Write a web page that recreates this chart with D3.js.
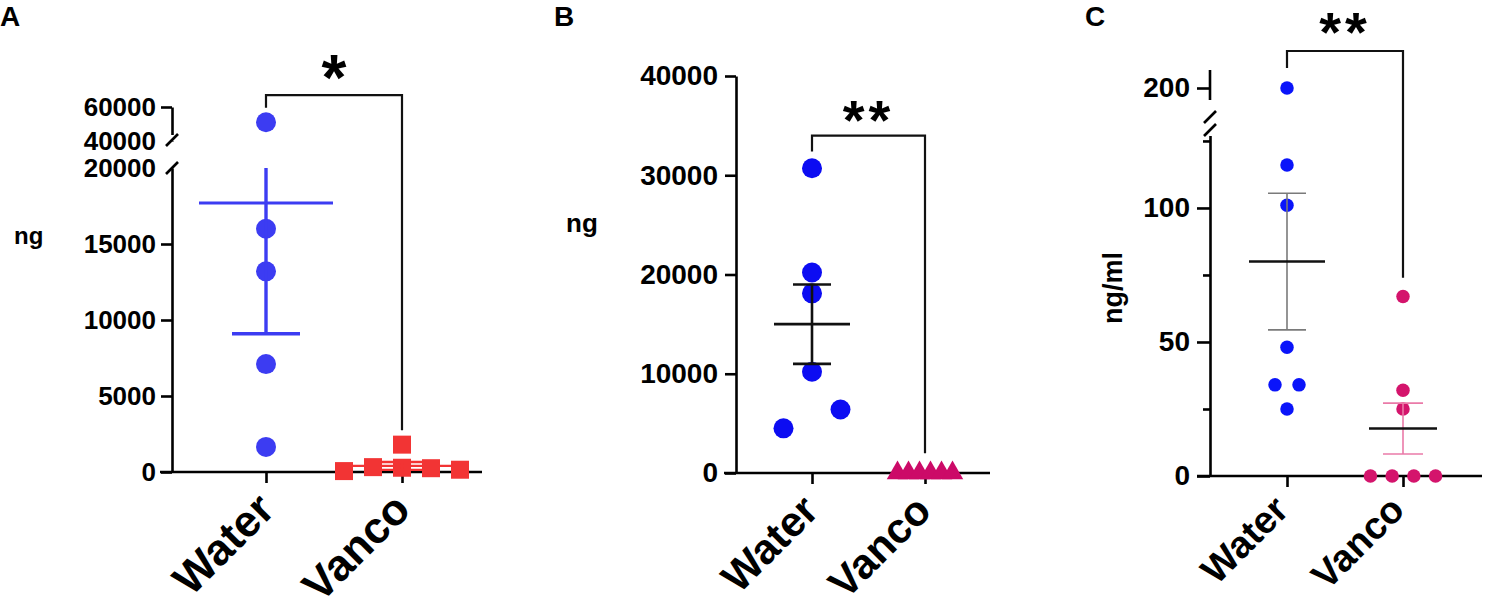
<!DOCTYPE html>
<html>
<head>
<meta charset="utf-8">
<script src="https://cdn.jsdelivr.net/npm/d3@7"></script>
<style>
  body { margin: 0; background: #fff; }
  svg { display: block; }
  text { font-family: "Liberation Sans", Arial, sans-serif; font-weight: bold; fill: #000; }
</style>
</head>
<body>
<svg width="1486" height="612"></svg>
<script>
// groups on every x axis
var groups = ["Water", "Vanco"];

// panel A: ng, broken y axis (0-20000 and 40000-60000)
var aWater = [51000, 16000, 13200, 7100, 1650];
var aVanco = [60, 320, 1800, 280, 250, 150];
var aMean = [17700, 400];
var aSem = [8600, 260];
var aTicks = [0, 5000, 10000, 15000];

// panel B: ng
var bWater = [30700, 20200, 18100, 10200, 4500, 6400];
var bVanco = [0, 0, 0, 0, 0, 0];
var bMean = [15000, 0];
var bSem = [4000, 0];
var bTicks = [0, 10000, 20000, 30000, 40000];

// panel C: ng/ml, broken y axis
var cWater = [200, 116, 101, 48, 34, 34, 25];
var cVanco = [67, 32, 25, 0, 0, 0, 0];
var cMean = [80, 17.7];
var cSem = [25.5, 9.5];
var cTicks = [0, 50, 100];
var cMinor = [25, 75, 125];

var svg = d3.select("svg");
var fmt = d3.format("d");

// spread points sideways when their markers would overlap (like a prism scatter)
function swarm(values, y, diam, spread) {
  var idx = values.map(function(d, i) { return i; })
                  .sort(function(a, b) { return values[a] - values[b]; });
  var clusters = [], cur = [idx[0]];
  for (var k = 1; k < idx.length; k++) {
    if (Math.abs(y(values[idx[k]]) - y(values[idx[k - 1]])) < diam) cur.push(idx[k]);
    else { clusters.push(cur); cur = [idx[k]]; }
  }
  clusters.push(cur);
  var off = new Array(values.length).fill(0);
  clusters.forEach(function(c) {
    c.sort(function(a, b) { return a - b; });
    c.forEach(function(i, j) { off[i] = (j - (c.length - 1) / 2) * spread; });
  });
  return off;
}

function dots(g, values, cx, y, opt) {
  var off = swarm(values, y, opt.diam, opt.spread);
  var sel = g.selectAll(null).data(values).enter();
  if (opt.shape === "circle") {
    sel.append("circle")
       .attr("cx", function(d, i) { return cx + off[i]; })
       .attr("cy", function(d) { return y(d); })
       .attr("r", opt.diam / 2)
       .attr("fill", opt.color);
  } else {
    var sym = d3.symbol().type(opt.shape === "square" ? d3.symbolSquare : d3.symbolTriangle).size(opt.size);
    sel.append("path")
       .attr("d", sym)
       .attr("transform", function(d, i) { return "translate(" + (cx + off[i]) + "," + y(d) + ")"; })
       .attr("fill", opt.color);
  }
}

function errorBar(g, cx, y, mean, sem, opt) {
  var top = mean + sem, clipped = false;
  if (opt.clip !== undefined && top > opt.clip) { top = opt.clip; clipped = true; }
  g.append("line").attr("x1", cx).attr("x2", cx)
   .attr("y1", y(mean - sem)).attr("y2", y(top))
   .attr("stroke", opt.bar).attr("stroke-width", opt.barW);
  g.append("line").attr("x1", cx - opt.cap).attr("x2", cx + opt.cap)
   .attr("y1", y(mean - sem)).attr("y2", y(mean - sem))
   .attr("stroke", opt.bar).attr("stroke-width", opt.barW);
  if (!clipped)
    g.append("line").attr("x1", cx - opt.cap).attr("x2", cx + opt.cap)
     .attr("y1", y(top)).attr("y2", y(top))
     .attr("stroke", opt.bar).attr("stroke-width", opt.barW);
  g.append("line").attr("x1", cx - opt.half).attr("x2", cx + opt.half)
   .attr("y1", y(mean)).attr("y2", y(mean))
   .attr("stroke", opt.mean).attr("stroke-width", opt.meanW);
}

function bracket(g, x, y, top, left, right, stars, starY, fs) {
  g.append("path")
   .attr("d", "M" + x("Water") + "," + y(left) + "V" + y(top) + "H" + x("Vanco") + "V" + y(right))
   .attr("fill", "none").attr("stroke", "#111").attr("stroke-width", 2.2);
  g.append("text")
   .attr("x", (x("Water") + x("Vanco")) / 2)
   .attr("y", y(starY))
   .attr("text-anchor", "middle")
   .attr("font-size", fs)
   .attr("letter-spacing", stars.length > 1 ? 4 : 0)
   .text(stars);
}

function xAxis(g, x, y0, x0, x1, fs, dx, dy) {
  g.append("line").attr("x1", x0).attr("x2", x1).attr("y1", y0).attr("y2", y0)
   .attr("stroke", "#000").attr("stroke-width", 2.6);
  var ax = g.append("g").attr("transform", "translate(0," + y0 + ")")
            .call(d3.axisBottom(x).tickSize(11).tickSizeOuter(0));
  ax.select(".domain").remove();
  ax.selectAll(".tick line").attr("stroke", "#000").attr("stroke-width", 2.6);
  ax.selectAll(".tick text")
    .attr("x", 0).attr("y", 0).attr("dy", 0)
    .attr("transform", "translate(" + dx + "," + dy + ") rotate(-45)")
    .attr("text-anchor", "end")
    .attr("font-size", fs)
    .attr("font-family", null).attr("fill", "#000");
}

function styleY(ax, fs) {
  ax.selectAll(".domain").attr("stroke", "#000").attr("stroke-width", 2.6);
  ax.selectAll(".tick line").attr("stroke", "#000").attr("stroke-width", 2.6);
  ax.selectAll(".tick text").attr("font-size", fs).attr("font-family", null).attr("fill", "#000");
}

function slash(g, x, y) {
  g.append("line").attr("x1", x - 6).attr("x2", x + 6).attr("y1", y + 6).attr("y2", y - 6)
   .attr("stroke", "#000").attr("stroke-width", 2.6);
}

// ---------------- panel A ----------------
var gA = svg.append("g");
var xA = d3.scalePoint().domain(groups).range([266, 402]);
var yAlo = d3.scaleLinear().domain([0, 20000]).range([472, 168]);
var yAup = d3.scaleLinear().domain([40000, 60000]).range([141, 107]);
function yA(v) { return v > 30000 ? yAup(v) : yAlo(v); }

gA.append("text").attr("x", 0).attr("y", 26).attr("font-size", 28).text("A");
gA.append("text").attr("x", 14).attr("y", 244).attr("font-size", 24).text("ng");

var axAlo = gA.append("g").attr("transform", "translate(172,0)")
  .call(d3.axisLeft(yAlo).tickValues(aTicks).tickFormat(fmt).tickSize(11).tickPadding(5).tickSizeOuter(0));
styleY(axAlo, 26);
var axA20 = gA.append("g").attr("transform", "translate(172,0)")
  .call(d3.axisLeft(yAlo).tickValues([20000]).tickFormat(fmt).tickSize(0).tickPadding(16));
axA20.select(".domain").remove();
styleY(axA20, 26);
var axAup = gA.append("g").attr("transform", "translate(172,0)")
  .call(d3.axisLeft(yAup).tickValues([60000]).tickFormat(fmt).tickSize(11).tickPadding(5).tickSizeOuter(0));
styleY(axAup, 26);
var axA40 = gA.append("g").attr("transform", "translate(172,0)")
  .call(d3.axisLeft(yAup).tickValues([40000]).tickFormat(fmt).tickSize(0).tickPadding(16));
axA40.select(".domain").remove();
styleY(axA40, 26);
gA.append("line").attr("x1", 172).attr("x2", 172).attr("y1", yAup(40000)).attr("y2", yAup(40000) - 6)
  .attr("stroke", "#fff").attr("stroke-width", 4);
slash(gA, 172, 140);
slash(gA, 172, 168);

xAxis(gA, xA, 472, 160, 482, 44, 10, 40);

dots(gA, aWater, xA("Water"), yA, { shape: "circle", diam: 20, spread: 30, color: "#3c3cf2" });
dots(gA, aVanco, xA("Vanco"), yA, { shape: "square", diam: 18, size: 324, spread: 29, color: "#f23434" });
errorBar(gA, xA("Water"), yA, aMean[0], aSem[0], { bar: "#3c3cf2", mean: "#3c3cf2", barW: 3.4, meanW: 3, half: 67, cap: 34, clip: 20000 });
errorBar(gA, xA("Vanco"), yA, aMean[1], aSem[1], { bar: "#f23434", mean: "#f23434", barW: 2.4, meanW: 2.4, half: 67, cap: 34 });
bracket(gA, xA, yA, 67000, 59500, 2750, "*", 64000, 64);

// ---------------- panel B ----------------
var gB = svg.append("g");
var xB = d3.scalePoint().domain(groups).range([812, 925]);
var yB = d3.scaleLinear().domain([0, 40000]).range([473, 76]);

gB.append("text").attr("x", 554).attr("y", 26).attr("font-size", 28).text("B");
gB.append("text").attr("x", 566).attr("y", 232).attr("font-size", 26).text("ng");

var axB = gB.append("g").attr("transform", "translate(736,0)")
  .call(d3.axisLeft(yB).tickValues(bTicks).tickFormat(fmt).tickSize(11).tickPadding(7).tickSizeOuter(0));
styleY(axB, 28);

xAxis(gB, xB, 473, 724, 990, 42, 8, 40);

dots(gB, bWater, xB("Water"), yB, { shape: "circle", diam: 20, spread: 57, color: "#0c0cf2" });
dots(gB, bVanco, xB("Vanco"), yB, { shape: "triangle", diam: 20, size: 200, spread: 11, color: "#cc0a68" });
errorBar(gB, xB("Water"), yB, bMean[0], bSem[0], { bar: "#111", mean: "#111", barW: 2.6, meanW: 2.6, half: 38, cap: 19 });
bracket(gB, xB, yB, 34000, 32400, 2000, "**", 33700, 56);

// ---------------- panel C ----------------
var gC = svg.append("g");
var xC = d3.scalePoint().domain(groups).range([1287, 1403]);
var yClo = d3.scaleLinear().domain([0, 127]).range([476, 135.6]);
var yCup = d3.scaleLinear().domain([190, 210]).range([108, 68]);
function yC(v) { return v > 150 ? yCup(v) : yClo(v); }

gC.append("text").attr("x", 1085).attr("y", 26).attr("font-size", 28).text("C");
gC.append("text").attr("transform", "translate(1122,288) rotate(-90)")
  .attr("text-anchor", "middle").attr("font-size", 27).text("ng/ml");

var axClo = gC.append("g").attr("transform", "translate(1210,0)")
  .call(d3.axisLeft(yClo).tickValues(cTicks).tickSize(13).tickPadding(7).tickSizeOuter(0));
styleY(axClo, 28);
var axCmin = gC.append("g").attr("transform", "translate(1210,0)")
  .call(d3.axisLeft(yClo).tickValues(cMinor).tickSize(7).tickFormat(""));
axCmin.select(".domain").remove();
styleY(axCmin, 28);
var axCup = gC.append("g").attr("transform", "translate(1210,0)")
  .call(d3.axisLeft(yCup).tickValues([200]).tickSize(13).tickPadding(7));
axCup.select(".domain").attr("d", "M0," + yCup(209) + "V" + yCup(194));
styleY(axCup, 28);
slash(gC, 1210, 117);
slash(gC, 1210, 130);

xAxis(gC, xC, 476, 1197, 1482, 38, 3, 36);

dots(gC, cWater, xC("Water"), yC, { shape: "circle", diam: 13.5, spread: 24, color: "#0a14fa" });
dots(gC, cVanco, xC("Vanco"), yC, { shape: "circle", diam: 13.5, spread: 21.7, color: "#d4146c" });
errorBar(gC, xC("Water"), yC, cMean[0], cSem[0], { bar: "#7a7a7a", mean: "#111", barW: 1.6, meanW: 2.4, half: 38, cap: 19 });
errorBar(gC, xC("Vanco"), yC, cMean[1], cSem[1], { bar: "#ea7aa8", mean: "#111", barW: 1.6, meanW: 2.4, half: 34, cap: 20 });
bracket(gC, xC, yC, 218.5, 210, 74, "**", 218.5, 56);
</script>
</body>
</html>
